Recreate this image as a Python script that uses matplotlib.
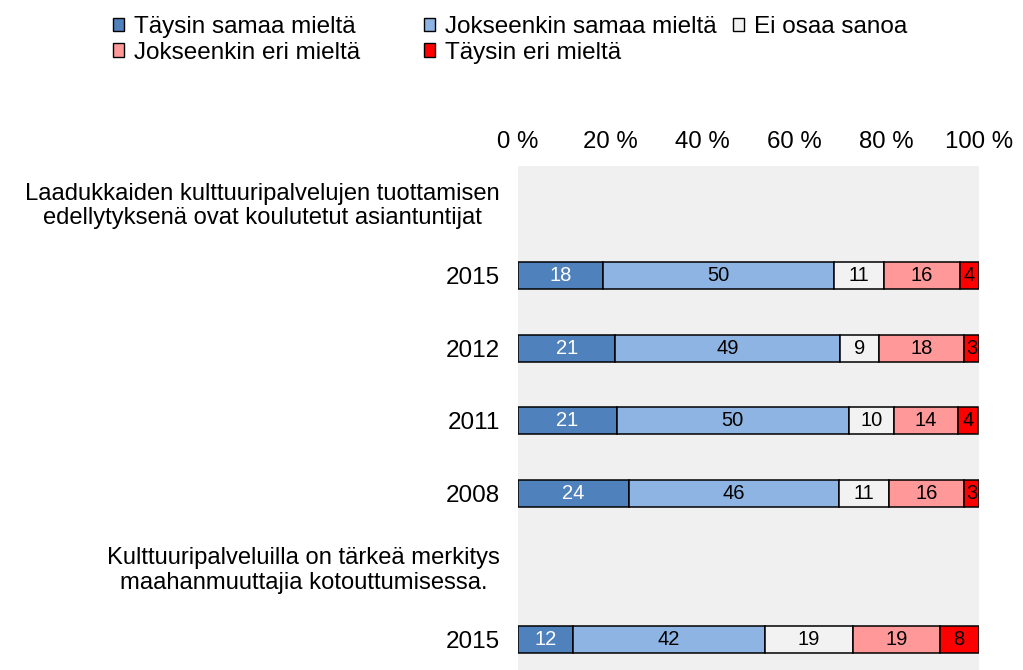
import matplotlib
matplotlib.use("Agg")
import matplotlib.pyplot as plt
from matplotlib.patches import Patch
import numpy as np

plt.rcParams['font.family'] = ['Liberation Sans', 'DejaVu Sans']

# ---- data ----
row_labels = [
    "Laadukkaiden kulttuuripalvelujen tuottamisen\nedellytyksenä ovat koulutetut asiantuntijat",
    "2015", "2012", "2011", "2008",
    "Kulttuuripalveluilla on tärkeä merkitys\nmaahanmuuttajia kotouttumisessa.",
    "2015",
]
bar_rows = [1, 2, 3, 4, 6]  # rows (in row_labels) that carry a bar
series_names = ["Täysin samaa mieltä", "Jokseenkin samaa mieltä", "Ei osaa sanoa",
                "Jokseenkin eri mieltä", "Täysin eri mieltä"]
taysin_samaa = [18.4, 21.1, 21.4, 24.1, 11.9]
jokseenkin_samaa = [50.1, 48.7, 50.4, 45.6, 41.6]
ei_osaa = [10.9, 8.6, 9.7, 10.8, 19.2]
jokseenkin_eri = [16.4, 18.3, 13.9, 16.3, 18.8]
taysin_eri = [4.1, 3.3, 4.4, 3.2, 8.4]
series = [taysin_samaa, jokseenkin_samaa, ei_osaa, jokseenkin_eri, taysin_eri]
colors = ["#4F81BD", "#8EB4E3", "#F2F2F2", "#FF9999", "#FF0000"]
label_colors = ["white", "black", "black", "black", "black"]
xticks = [0, 20, 40, 60, 80, 100]

# ---- figure ----
W, H = 1023, 670
fig = plt.figure(figsize=(W / 100, H / 100), dpi=100)
ax = fig.add_axes([518 / W, 0, (979 - 518) / W, (670 - 166) / H])
ax.set_facecolor("#F0F0F0")

left = np.zeros(len(bar_rows))
for vals, col, lc in zip(series, colors, label_colors):
    vals = np.array(vals)
    bars = ax.barh(bar_rows, vals, left=left, height=0.37, color=col,
                   edgecolor="black", linewidth=1.1, zorder=3)
    for b, v in zip(bars, vals):
        ax.text(b.get_x() + b.get_width() / 2, b.get_y() + b.get_height() / 2,
                f"{v:.0f}", ha="center", va="center", color=lc, fontsize=14.5, zorder=4)
    left += vals

ax.set_xlim(0, 100)
ax.set_ylim(6.42, -0.5)
ax.set_xticks(xticks)
ax.set_xticklabels([f"{t} %" for t in xticks], fontsize=17.3)
ax.xaxis.tick_top()
ax.tick_params(axis="x", length=0, pad=9)
ax.set_yticks(range(len(row_labels)))
ax.set_yticklabels(row_labels, fontsize=17.5, multialignment="center", linespacing=1.15)
for lbl in ax.get_yticklabels():
    if "\n" in lbl.get_text():
        lbl.set_fontsize(17.1)
ax.tick_params(axis="y", length=0, pad=13)
for s in ax.spines.values():
    s.set_visible(False)

# ---- legend (row-wise layout like the original) ----
handles = [Patch(facecolor=c, edgecolor="black", linewidth=1.0) for c in colors]
leg_kw = dict(loc="upper left", frameon=False, borderpad=0, borderaxespad=0,
              handlelength=0.46, handleheight=0.46, handletextpad=0.4,
              labelspacing=0.15, fontsize=17.5, bbox_transform=fig.transFigure)
groups = [([0, 3], 113), ([1, 4], 424), ([2], 733)]
for idx, x in groups:
    lg = fig.legend([handles[i] for i in idx], [series_names[i] for i in idx],
                    bbox_to_anchor=(x / W, 1 - 16 / H), **leg_kw)

fig.savefig("out.png", dpi=100)
